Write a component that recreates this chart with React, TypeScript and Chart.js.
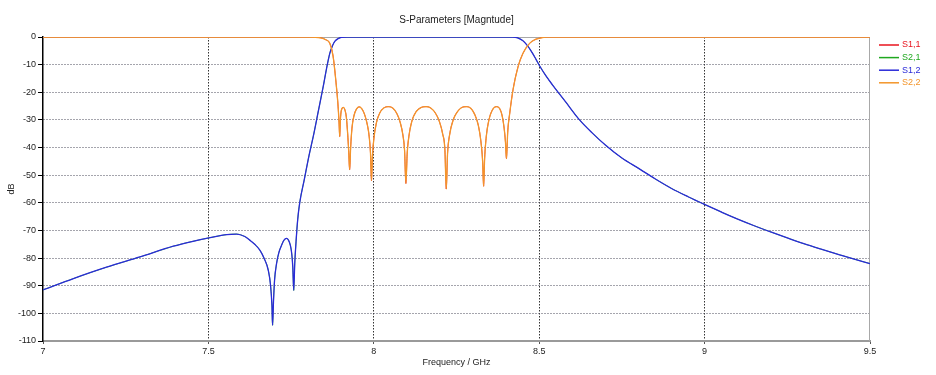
import React, { useEffect, useRef } from "react";
import { Chart, registerables } from "chart.js";

Chart.register(...registerables);

const chartTitle = "S-Parameters [Magntude]";
const xAxisTitle = "Frequency / GHz";
const yAxisTitle = "dB";

const seriesNames = ["S1,1", "S2,1", "S1,2", "S2,2"];
const seriesColors = ["#e8141e", "#1fa81f", "#2a2ad8", "#f3952a"];
const seriesWidths = [0.8, 0.8, 1.3, 1.3];

const xTickValues = [7, 7.5, 8, 8.5, 9, 9.5];
const yTickValues = [0, -10, -20, -30, -40, -50, -60, -70, -80, -90, -100, -110];

// Reflection (S2,2 ; S1,1 lies underneath it)
const reflFreq = [
  7.0, 7.8, 7.84, 7.855, 7.867, 7.877, 7.885, 7.892, 7.895, 7.897, 7.899, 7.902, 7.908, 7.913, 7.917,
  7.921, 7.924, 7.927, 7.93, 7.934, 7.94, 7.948, 7.956, 7.964, 7.972, 7.98, 7.986, 7.99, 7.993, 7.996,
  8.0, 8.008, 8.018, 8.03, 8.044, 8.058, 8.07, 8.08, 8.088, 8.093, 8.097, 8.101, 8.106, 8.115, 8.128,
  8.143, 8.158, 8.172, 8.186, 8.198, 8.208, 8.215, 8.219, 8.223, 8.229, 8.24, 8.253, 8.266, 8.28, 8.293,
  8.305, 8.316, 8.324, 8.329, 8.332, 8.335, 8.34, 8.348, 8.358, 8.37, 8.38, 8.388, 8.394, 8.398, 8.401,
  8.405, 8.411, 8.421, 8.436, 8.451, 8.471, 8.49, 8.502, 8.52, 9.5,
];
const reflDb = [
  0, 0, -0.3, -1, -2.3, -7, -15.5, -25, -31, -36, -30, -26.5, -25.5, -26.5, -29,
  -35, -41, -48, -40, -33, -28.5, -26, -25.3, -26, -28, -31.5, -36, -42, -52, -43,
  -37, -31, -27.5, -25.7, -25.2, -25.8, -27.8, -31, -35.5, -41, -53, -42, -36, -30.5, -27,
  -25.5, -25.2, -25.7, -27.5, -30.5, -35, -41, -55, -42, -35.5, -30, -27, -25.5, -25.2, -25.8,
  -28, -32, -38, -45, -54, -44, -36, -30, -26.5, -25.2, -25.8, -28.5, -33, -38, -44,
  -34, -27.5, -19, -10.8, -5.9, -2.3, -0.8, -0.4, 0, 0,
];

// Transmission (S1,2 ; S2,1 lies underneath it)
const transFreq = [
  7.0, 7.092, 7.192, 7.293, 7.394, 7.45, 7.505, 7.555, 7.585, 7.61, 7.625, 7.64, 7.656, 7.668, 7.681,
  7.688, 7.692, 7.694, 7.697, 7.7, 7.706, 7.713, 7.721, 7.728, 7.736, 7.742, 7.748, 7.752, 7.755, 7.758,
  7.761, 7.765, 7.77, 7.776, 7.79, 7.804, 7.817, 7.832, 7.847, 7.857, 7.867, 7.875, 7.882, 7.892, 7.902,
  7.92, 8.42, 8.435, 8.45, 8.465, 8.48, 8.49, 8.502, 8.52, 8.54, 8.58, 8.622, 8.66, 8.7, 8.75,
  8.804, 8.85, 8.9, 8.95, 8.998, 9.05, 9.1, 9.15, 9.206, 9.25, 9.3, 9.35, 9.408, 9.45, 9.5,
];
const transDb = [
  -91.5, -87.4, -83.3, -79.6, -75.7, -74, -72.6, -71.5, -71.3, -72.2, -73.5, -75, -77.2, -80, -84.4,
  -90, -97, -104.3, -95, -88, -82, -78, -75.4, -73.6, -72.9, -73.5, -75.5, -78.5, -83, -91.7,
  -82, -74, -66, -60, -51.5, -43, -36, -27, -18, -11.5, -5.9, -3.2, -1.6, -0.6, -0.1,
  0, 0, -0.3, -1.3, -3.2, -5.9, -8.0, -10.6, -14.0, -17.3, -23.5, -30, -34.7, -39.1, -43.8,
  -47.8, -51.3, -54.8, -57.8, -60.5, -63.3, -65.9, -68.3, -70.8, -72.7, -74.8, -76.7, -78.8, -80.3, -82,
];

const toPoints = (xs: number[], ys: number[]) => xs.map((x, i) => ({ x, y: ys[i] }));

const FONT = "'Liberation Sans', Arial, sans-serif";

const decorPlugin = {
  id: "decor",
  beforeDatasetsDraw(chart: any) {
    const { ctx, chartArea } = chart;
    ctx.save();
    ctx.strokeStyle = "#a8a8a8";
    ctx.lineWidth = 1;
    ctx.beginPath();
    ctx.moveTo(chartArea.left, chartArea.top + 0.5);
    ctx.lineTo(chartArea.right, chartArea.top + 0.5);
    ctx.moveTo(chartArea.right - 0.5, chartArea.top);
    ctx.lineTo(chartArea.right - 0.5, chartArea.bottom);
    ctx.stroke();
    ctx.restore();
  },
  afterDraw(chart: any) {
    const { ctx, chartArea } = chart;
    ctx.save();
    // title
    ctx.font = `10px ${FONT}`;
    ctx.fillStyle = "#222";
    ctx.textAlign = "center";
    ctx.textBaseline = "middle";
    ctx.fillText(chartTitle, (chartArea.left + chartArea.right) / 2, 20);
    // legend
    ctx.font = `9px ${FONT}`;
    ctx.textAlign = "left";
    seriesNames.forEach((name, i) => {
      const y = chartArea.top + 8 + i * 12.6;
      ctx.strokeStyle = seriesColors[i];
      ctx.lineWidth = 1.5;
      ctx.beginPath();
      ctx.moveTo(chartArea.right + 9, y);
      ctx.lineTo(chartArea.right + 29, y);
      ctx.stroke();
      ctx.fillStyle = seriesColors[i];
      ctx.fillText(name, chartArea.right + 32, y);
    });
    ctx.restore();
  },
};

export default function App() {
  const canvasRef = useRef<HTMLCanvasElement | null>(null);

  useEffect(() => {
    if (!canvasRef.current) return;
    const reflPts = toPoints(reflFreq, reflDb);
    const transPts = toPoints(transFreq, transDb);
    const seriesData = [reflPts, transPts, transPts, reflPts];
    const drawOrder = [3, 2, 1, 0];

    const chart = new Chart(canvasRef.current, {
      type: "line",
      data: {
        datasets: seriesNames.map((name, i) => ({
          label: name,
          data: seriesData[i],
          borderColor: seriesColors[i],
          backgroundColor: seriesColors[i],
          borderWidth: seriesWidths[i],
          pointRadius: 0,
          fill: false,
          cubicInterpolationMode: "monotone" as const,
          order: drawOrder[i],
        })),
      },
      options: {
        animation: false,
        responsive: true,
        maintainAspectRatio: false,
        layout: { padding: { top: 37, right: 66, left: 0, bottom: 0 } },
        plugins: {
          legend: { display: false },
          title: { display: false },
          tooltip: { enabled: false },
        },
        scales: {
          x: {
            type: "linear",
            min: xTickValues[0],
            max: xTickValues[xTickValues.length - 1],
            afterBuildTicks: (s: any) => {
              s.ticks = xTickValues.map((v) => ({ value: v }));
            },
            afterFit: (s: any) => {
              s.height = 34;
            },
            ticks: {
              font: { family: FONT, size: 9 },
              color: "#222",
              padding: 2,
              maxRotation: 0,
              callback: (v: any) => String(v),
            },
            grid: {
              color: (c: any) =>
                c.tick && (c.tick.value === xTickValues[0] || c.tick.value === xTickValues[xTickValues.length - 1])
                  ? "rgba(0,0,0,0)"
                  : "#333",
              tickColor: "#555",
              tickLength: 3,
              tickBorderDash: [],
            },
            border: { display: true, color: "#9a9a9a", width: 2, dash: [1.5, 1.5] },
            title: {
              display: true,
              text: xAxisTitle,
              font: { family: FONT, size: 9 },
              color: "#222",
              padding: { top: 2, bottom: 7 },
            },
          },
          y: {
            type: "linear",
            min: yTickValues[yTickValues.length - 1],
            max: yTickValues[0],
            afterBuildTicks: (s: any) => {
              s.ticks = yTickValues.slice().reverse().map((v) => ({ value: v }));
            },
            afterFit: (s: any) => {
              s.width = 43;
            },
            ticks: {
              font: { family: FONT, size: 9 },
              color: "#222",
              padding: 2,
              callback: (v: any) => String(v),
            },
            grid: {
              color: (c: any) =>
                c.tick && (c.tick.value === yTickValues[0] || c.tick.value === yTickValues[yTickValues.length - 1])
                  ? "rgba(0,0,0,0)"
                  : "#4a4a5a",
              tickColor: "#000",
              tickLength: 5,
              tickBorderDash: [],
            },
            border: { display: true, color: "#000", width: 1.5, dash: [1, 2] },
            title: {
              display: true,
              text: yAxisTitle,
              font: { family: FONT, size: 9 },
              color: "#222",
              padding: { top: 6, bottom: 0 },
            },
          },
        },
      },
      plugins: [decorPlugin],
    });
    return () => chart.destroy();
  }, []);

  return (
    <div style={{ position: "absolute", left: 0, top: 0, width: 936, height: 375, background: "#fff" }}>
      <canvas ref={canvasRef} />
    </div>
  );
}
